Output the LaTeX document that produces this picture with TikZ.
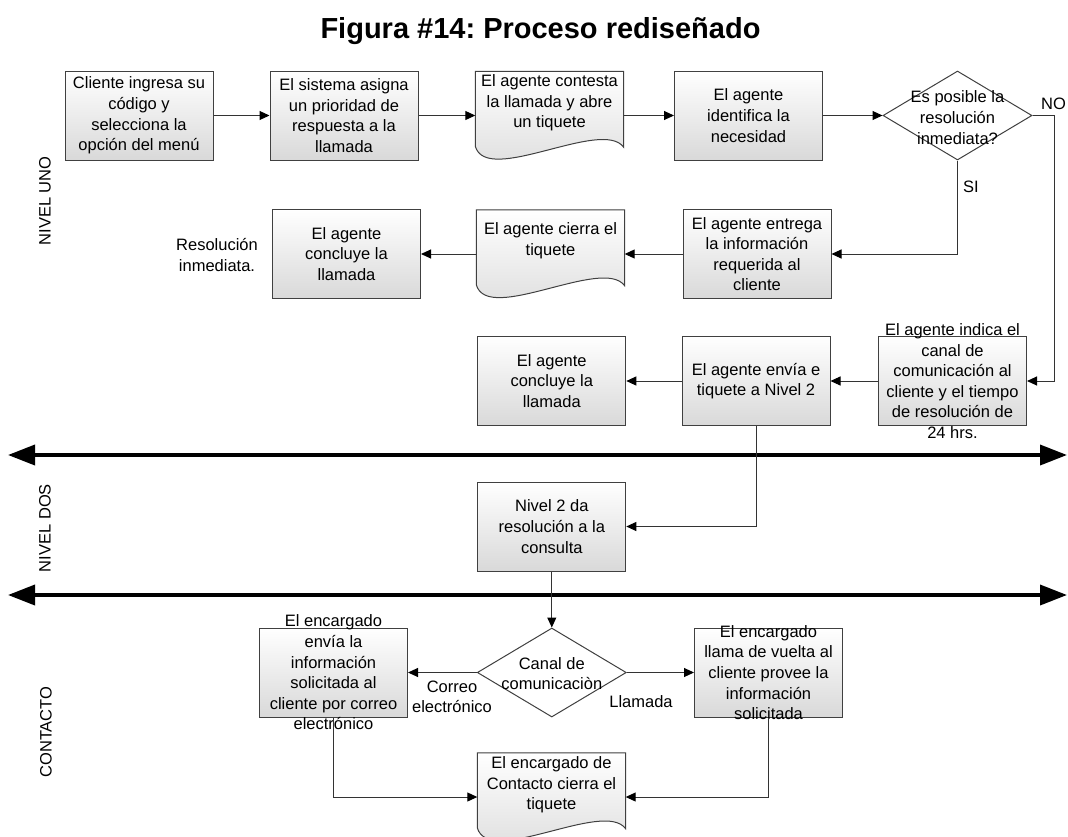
\documentclass[tikz,border=0pt]{standalone}
\usepackage{fontspec}
\setmainfont{Liberation Sans}
\frenchspacing
\usetikzlibrary{shapes.geometric,arrows.meta,calc}
\newcommand{\docpath}[1]{%
  \path[docshade] (#1.north west) -- (#1.north east) -- ($(#1.north east)+(0,76)$)
    .. controls ($(#1.north west)+(127,46)$) and ($(#1.north west)+(11.5,115)$) .. ($(#1.north west)+(0,75)$) -- cycle;}
\begin{document}
\begin{tikzpicture}[x=1pt,y=-1pt,
  every node/.style={font=\fontsize{16.5}{20.6}\selectfont, inner sep=0pt},
  box/.style={draw=black!75, line width=1pt, top color=white, bottom color=black!15, minimum width=148pt, minimum height=89pt},
  docnode/.style={draw=none, minimum width=148pt, minimum height=88pt},
  docshade/.style={draw=black!75, line width=1pt, top color=white, bottom color=black!15},
  decision/.style={diamond, draw=black!75, line width=1pt, fill=white, minimum width=149pt, minimum height=89pt, inner sep=0pt},
  txt/.style={align=center},
  conn/.style={draw=black!80, line width=1pt, -{Triangle[length=10pt,width=9pt,color=black]}},
  sep/.style={draw=black, line width=3.6pt, {Triangle[length=27pt,width=20pt]}-{Triangle[length=27pt,width=20pt]}},
  lane/.style={rotate=90, font=\fontsize{16.5}{20}\selectfont}
]
\useasboundingbox (0,0) rectangle (1068,836);

% title
\node[anchor=base, font=\fontsize{29}{35}\selectfont\bfseries] (title) at (540.5,38) {Figura \#14: Proceso rediseñado};

% lane labels
\node[lane] (l1) at (45,201) {NIVEL UNO};
\node[lane] (l2) at (45,528) {NIVEL DOS};
\node[lane] (l3) at (46,732) {CONTACTO};

% separators
\coordinate (s1l) at (8,455);
\coordinate (s1r) at (1067,455);
\coordinate (s2l) at (8,595);
\coordinate (s2r) at (1067,595);
\draw[sep] (s1l) -- (s1r);
\draw[sep] (s2l) -- (s2r);

% row 1
\node[box] (A) at (139,115.5) {};
\node[txt] at (A) {Cliente ingresa su\\código y\\selecciona la\\opción del menú};
\node[box] (B) at (344,115.5) {};
\node[txt] at (B) {El sistema asigna\\un prioridad de\\respuesta a la\\llamada};
\node[docnode] (C) at (549.5,115.5) {};
\docpath{C}
\node[txt] at ($(C.north)+(0,31.5)$) {El agente contesta\\la llamada y abre\\un tiquete};
\node[box] (D) at (748.5,115.5) {};
\node[txt] at (D) {El agente\\identifica la\\necesidad};
\node[decision] (E) at (957.5,115.5) {};
\node[txt] at ($(E)+(0,2)$) {Es posible la\\resolución\\inmediata?};

% row 2
\node[box] (G) at (757,254) {};
\node[txt] at (G) {El agente entrega\\la información\\requerida al\\cliente};
\node[docnode] (H) at (550.5,254) {};
\docpath{H}
\node[txt] at ($(H.north)+(0,31)$) {El agente cierra el\\tiquete};
\node[box] (I) at (346.5,254) {};
\node[txt] at (I) {El agente\\concluye la\\llamada};
\node[txt] (res) at (217,255) {Resolución\\inmediata.};

% row 3
\node[box] (J) at (551.8,381) {};
\node[txt] at (J) {El agente\\concluye la\\llamada};
\node[box] (K) at (756,381) {};
\node[txt] at (K) {El agente envía e\\tiquete a Nivel 2};
\node[box] (F) at (952.5,381) {};
\node[txt] at (F) {El agente indica el\\canal de\\comunicación al\\cliente y el tiempo\\de resolución de\\24 hrs.};

% nivel dos
\node[box] (L) at (551.8,526.5) {};
\node[txt] at (L) {Nivel 2 da\\resolución a la\\consulta};

% contacto
\node[decision] (M) at (551.8,672.5) {};
\node[txt] at ($(M)+(0,1)$) {Canal de\\comunicaciòn};
\node[box] (N) at (333.5,672.5) {};
\node[txt] at (N) {El encargado\\envía la\\información\\solicitada al\\cliente por correo\\electrónico};
\node[box] (O) at (768.5,672.5) {};
\node[txt] at (O) {El encargado\\llama de vuelta al\\cliente provee la\\información\\solicitada};
\node[docnode] (P) at (551.5,797) {};
\docpath{P}
\node[txt] at ($(P.north)+(0,32)$) {El encargado de\\Contacto cierra el\\tiquete};

% connectors
\draw[conn] (A.east) -- (B.west);
\draw[conn] (B.east) -- (C.west);
\draw[conn] (C.east) -- (D.west);
\draw[conn] (D.east) -- (E.west);
\draw[conn] (E.east) -- ++(21.5,0) |- (F.east);
\node (no) at (1053.5,104) {NO};
\draw[conn] (E.south) |- (G.east);
\node (si) at (971,187) {SI};
\draw[conn] (G.west) -- (H.east);
\draw[conn] (H.west) -- (I.east);
\draw[conn] (F.west) -- (K.east);
\draw[conn] (K.west) -- (J.east);
\draw[conn] (K.south) |- (L.east);
\draw[conn] (L.south) -- (M.north);
\draw[conn] (M.west) -- (N.east);
\node[txt] (correo) at (452,697) {Correo\\electrónico};
\draw[conn] (M.east) -- (O.west);
\node (llam) at (641,702) {Llamada};
\draw[conn] (N.south) |- (P.west);
\draw[conn] (O.south) |- (P.east);
\end{tikzpicture}
\end{document}
